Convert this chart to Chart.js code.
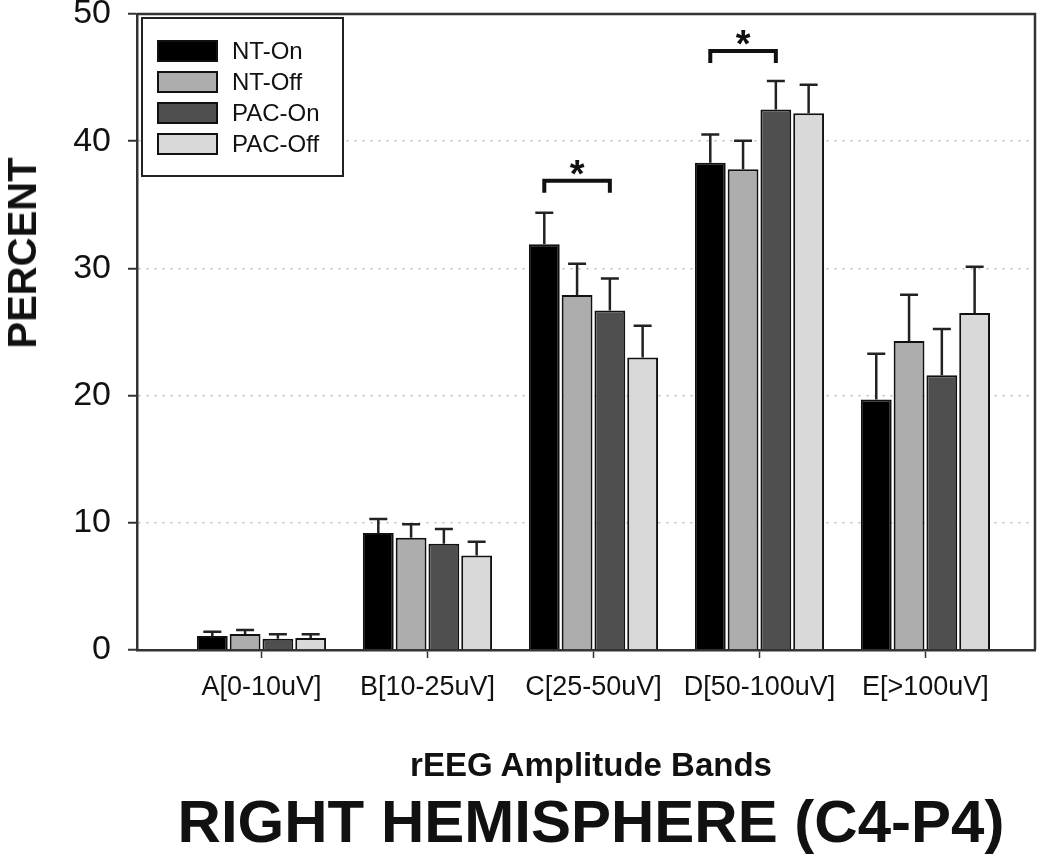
<!DOCTYPE html>
<html>
<head>
<meta charset="utf-8">
<script src="https://cdn.jsdelivr.net/npm/chart.js@4.4.1/dist/chart.umd.min.js"></script>
<style>
  body { margin: 0; background: #fff; font-family: Arial, "Liberation Sans", sans-serif; }
  #wrap { position: relative; width: 1050px; height: 857px; }
  canvas { position: absolute; left: 0; top: 0; }
  .ttl { position: absolute; font-weight: bold; line-height: 1; white-space: nowrap; color: #111; transform: translate(-50%, -50%); }
  #yTitle { left: 22px; top: 253px; font-size: 40px; transform: translate(-50%, -50%) rotate(-90deg); }
  #xTitle { left: 591px; top: 764px; font-size: 33px; }
  #mainTitle { left: 591px; top: 822px; font-size: 60px; }
</style>
</head>
<body>
<div id="wrap">
  <canvas id="chart" width="1050" height="857"></canvas>
  <div class="ttl" id="yTitle">PERCENT</div>
  <div class="ttl" id="xTitle">rEEG Amplitude Bands</div>
  <div class="ttl" id="mainTitle">RIGHT HEMISPHERE (C4-P4)</div>
</div>
<script>
// amplitude bands (x categories)
const bands = ['A[0-10uV]', 'B[10-25uV]', 'C[25-50uV]', 'D[50-100uV]', 'E[>100uV]'];
const seriesNames = ['NT-On', 'NT-Off', 'PAC-On', 'PAC-Off'];
const seriesColors = ['#000000', '#adadad', '#4f4f4f', '#d9d9d9'];

// mean percent per band
const ntOn   = [1.1, 9.2, 31.9, 38.3, 19.7];
const ntOff  = [1.26, 8.83, 27.9, 37.8, 24.3];
const pacOn  = [0.89, 8.36, 26.7, 42.5, 21.6];
const pacOff = [0.94, 7.42, 23.0, 42.2, 26.5];

// upper error (SE) per band
const ntOnErr   = [0.34, 1.1, 2.47, 2.22, 3.59];
const ntOffErr  = [0.31, 1.05, 2.46, 2.23, 3.62];
const pacOnErr  = [0.35, 1.15, 2.5, 2.23, 3.63];
const pacOffErr = [0.3, 1.1, 2.5, 2.23, 3.63];

const yTicks = [0, 10, 20, 30, 40, 50];

// significance brackets: band index, first and last series, bracket level
const sigBand = [2, 3];
const sigFrom = [0, 0];
const sigTo = [2, 2];
const sigLevel = [36.9, 47.1];

const values = [ntOn, ntOff, pacOn, pacOff];
const errors = [ntOnErr, ntOffErr, pacOnErr, pacOffErr];

const datasets = seriesNames.map((name, s) => ({
    label: name,
    data: values[s].map((v, i) => ({ x: i, y: v })),
    backgroundColor: seriesColors[s],
    borderColor: '#111',
    borderWidth: 2,
    categoryPercentage: 0.79,
    barPercentage: 0.94
}));

// error bars, brackets, frame and legend
const extras = {
    id: 'extras',
    afterDatasetsDraw(chart) {
        const ctx = chart.ctx;
        const y = chart.scales.y;
        ctx.save();
        ctx.strokeStyle = '#222';
        ctx.lineWidth = 2.5;
        values.forEach((vals, s) => {
            const meta = chart.getDatasetMeta(s);
            vals.forEach((v, i) => {
                const bar = meta.data[i];
                const top = y.getPixelForValue(v + errors[s][i]);
                ctx.beginPath();
                ctx.moveTo(bar.x, bar.y);
                ctx.lineTo(bar.x, top);
                ctx.moveTo(bar.x - 9, top);
                ctx.lineTo(bar.x + 9, top);
                ctx.stroke();
            });
        });

        // significance brackets
        ctx.lineWidth = 4;
        ctx.strokeStyle = '#111';
        ctx.fillStyle = '#111';
        ctx.font = 'bold 38px Arial, "Liberation Sans", sans-serif';
        ctx.textAlign = 'center';
        ctx.textBaseline = 'alphabetic';
        sigBand.forEach((b, k) => {
            const x1 = chart.getDatasetMeta(sigFrom[k]).data[b].x;
            const x2 = chart.getDatasetMeta(sigTo[k]).data[b].x;
            const yy = y.getPixelForValue(sigLevel[k]);
            ctx.beginPath();
            ctx.moveTo(x1, yy + 12);
            ctx.lineTo(x1, yy);
            ctx.lineTo(x2, yy);
            ctx.lineTo(x2, yy + 12);
            ctx.stroke();
            ctx.fillText('*', (x1 + x2) / 2, yy + 6);
        });
        ctx.restore();
    },
    afterDraw(chart) {
        const ctx = chart.ctx;
        const a = chart.chartArea;
        ctx.save();
        // top and right frame
        ctx.strokeStyle = '#333';
        ctx.lineWidth = 2.5;
        ctx.beginPath();
        ctx.moveTo(a.left, a.top);
        ctx.lineTo(a.right, a.top);
        ctx.lineTo(a.right, a.bottom);
        ctx.stroke();

        // legend box
        const lx = a.left + 5, ly = a.top + 4;
        ctx.fillStyle = '#fff';
        ctx.fillRect(lx, ly, 201, 158);
        ctx.lineWidth = 2;
        ctx.strokeStyle = '#222';
        ctx.strokeRect(lx, ly, 201, 158);
        ctx.font = '24px Arial, "Liberation Sans", sans-serif';
        ctx.textAlign = 'left';
        ctx.textBaseline = 'middle';
        seriesNames.forEach((name, s) => {
            const cy = ly + 33 + s * 31;
            ctx.fillStyle = seriesColors[s];
            ctx.fillRect(lx + 16, cy - 10, 59, 20);
            ctx.strokeStyle = '#111';
            ctx.strokeRect(lx + 16, cy - 10, 59, 20);
            ctx.fillStyle = '#111';
            ctx.fillText(name, lx + 90, cy + 1);
        });
        ctx.restore();
    }
};

new Chart(document.getElementById('chart'), {
    type: 'bar',
    data: { datasets: datasets },
    plugins: [extras],
    options: {
        responsive: false,
        animation: false,
        layout: { padding: { top: 14, right: 15, left: 0, bottom: 0 } },
        plugins: {
            legend: { display: false },
            tooltip: { enabled: false }
        },
        scales: {
            x: {
                type: 'linear',
                offset: false,
                min: -0.75,
                max: 4.66,
                afterBuildTicks: s => { s.ticks = bands.map((b, i) => ({ value: i })); },
                afterFit: s => { s.height = 207; s.paddingLeft = 0; s.paddingRight = 0; },
                ticks: {
                    callback: v => bands[v],
                    font: { size: 27, family: 'Arial, "Liberation Sans", sans-serif' },
                    color: '#111',
                    padding: 13,
                    maxRotation: 0,
                    autoSkip: false
                },
                grid: { offset: false, drawOnChartArea: false, drawTicks: true, tickLength: 8, color: '#333', tickWidth: 1.5 },
                border: { display: true, color: '#333', width: 2.5 }
            },
            y: {
                min: 0,
                max: 50,
                afterBuildTicks: s => { s.ticks = yTicks.map(v => ({ value: v })); },
                afterFit: s => { s.width = 137; s.paddingTop = 0; s.paddingBottom = 0; },
                ticks: {
                    font: { size: 34, family: 'Arial, "Liberation Sans", sans-serif' },
                    color: '#111',
                    padding: 17
                },
                grid: {
                    color: ctx => (ctx.tick && (ctx.tick.value === 0 || ctx.tick.value === 50)) ? 'rgba(0,0,0,0)' : '#bbb',
                    lineWidth: 1.5,
                    drawTicks: true,
                    tickLength: 9,
                    tickColor: '#333',
                    tickWidth: 2,
                    tickBorderDash: []
                },
                border: { display: true, color: '#333', width: 2.5, dash: [2, 6] }
            }
        }
    }
});
</script>
</body>
</html>
